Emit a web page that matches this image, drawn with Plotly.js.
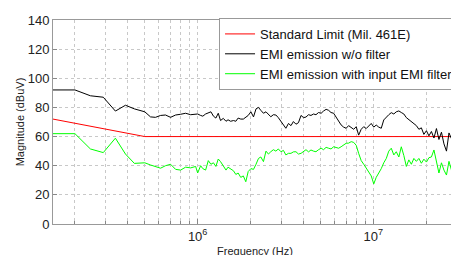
<!DOCTYPE html>
<html>
<head>
<meta charset="utf-8">
<script src="https://cdn.plot.ly/plotly-3.0.1.min.js"></script>
<style>
html, body { margin: 0; padding: 0; overflow: hidden; background: #fff; }
#chart { width: 460px; height: 262px; }
</style>
</head>
<body>
<div id="chart"></div>
<script>
// Frequencies (Hz) of the measured points
const freqHz = [
  150e3, 200e3, 245e3, 290e3, 340e3, 388e3, 436e3, 500e3, 539e3, 575e3,
  615e3, 656e3, 701e3, 749e3, 800e3, 854e3, 912e3, 974e3,
  1.00e6, 1.04e6, 1.07e6, 1.11e6, 1.15e6, 1.19e6, 1.23e6, 1.27e6, 1.31e6, 1.35e6,
  1.40e6, 1.45e6, 1.49e6, 1.54e6, 1.60e6, 1.65e6, 1.70e6, 1.76e6, 1.82e6, 1.88e6,
  1.94e6, 2.01e6, 2.08e6, 2.15e6, 2.22e6, 2.29e6, 2.37e6, 2.45e6, 2.53e6, 2.61e6,
  2.70e6, 2.79e6, 2.88e6, 2.98e6, 3.08e6, 3.18e6, 3.29e6, 3.40e6, 3.51e6, 3.63e6,
  3.75e6, 3.88e6, 4.01e6, 4.14e6, 4.28e6, 4.42e6, 4.57e6, 4.72e6, 4.88e6, 5.05e6,
  5.21e6, 5.39e6, 5.57e6, 5.75e6, 5.95e6, 6.15e6, 6.35e6, 6.56e6, 6.78e6, 7.01e6,
  7.24e6, 7.49e6, 7.74e6, 8.00e6, 8.26e6, 8.54e6, 8.83e6, 9.12e6, 9.43e6, 9.74e6,
  10.07e6, 10.4e6, 10.75e6, 11.11e6, 11.48e6, 11.87e6, 12.26e6, 12.67e6, 13.1e6, 13.53e6,
  13.99e6, 14.45e6, 14.94e6, 15.44e6, 15.95e6, 16.49e6, 17.04e6, 17.61e6, 18.2e6, 18.8e6,
  19.43e6, 20.09e6, 20.76e6, 21.45e6, 22.17e6, 22.91e6, 23.67e6, 24.47e6, 25.28e6, 26.13e6,
  27.0e6, 27.91e6, 28.84e6, 29.81e6
];

// EMI emission without filter (dBuV)
const emiNoFilter = [
  92, 92, 88, 87, 77.5, 81.5, 79, 77, 73.5, 73.2,
  74.5, 74.8, 73.2, 74.8, 75.3, 76, 75, 75.5,
  75.5, 74.5, 74, 75.5, 76, 77, 74, 72.7, 76, 71,
  72.5, 70.5, 71.5, 70.5, 71, 70.5, 72.7, 72, 72, 73.5,
  74.5, 77, 73.5, 79, 80, 78, 76, 77, 75.5, 73.6,
  75, 74.8, 73, 70.5, 67.5, 65.7, 69, 67.5, 70.3, 68.5,
  69.5, 74.5, 73, 73.4, 75, 74.5, 75.5, 75, 76.5, 76,
  77.5, 78.7, 78, 76.5, 76, 73, 70, 68, 66.5, 65.7,
  67.5, 66, 65, 66.8, 61, 65, 66.8, 65.5, 67.3, 69,
  66.5, 67.9, 66.5, 65.7, 71.4, 73.5, 75, 76.4, 75.5, 77,
  77.6, 76.5, 75.5, 73, 71.5, 70, 68.5, 67.5, 65, 66,
  61.5, 64, 60.5, 63.5, 59, 65.5, 58, 63, 55, 50,
  62.5, 58.5, 62, 59.5
];

// EMI emission with input EMI filter (dBuV)
const emiWithFilter = [
  62, 62, 51.5, 49, 58.9, 48, 41.6, 42, 40.5, 39.5,
  38.3, 40, 41, 37.5, 37, 39, 38.5, 39.5,
  35, 40, 38, 37, 43.5, 41, 42, 39.5, 44.6, 42.8,
  40, 37, 39, 38, 36.5, 34, 35, 32, 33, 29,
  36, 38, 37.5, 41, 45, 46, 42.8, 50, 48, 49.6,
  51, 50, 51.5, 49.6, 50.5, 47.4, 48.5, 48.5, 49.5, 49.6,
  48, 48.5, 50, 51, 49.5, 50.8, 50, 49.6, 51, 52,
  51, 52.6, 52, 51.5, 53, 52.6, 52, 53, 54, 55.4,
  55.5, 56.5, 56, 54, 48.5, 43.5, 41, 38.2, 36, 33,
  27.5, 32, 35, 38, 42, 45, 50, 52, 47.4, 49.6,
  46, 53, 47, 39.5, 44, 41, 45, 43, 45, 41.7,
  44.5, 42.5, 45.5, 46, 50.8, 42.8, 35, 42, 37, 33.6,
  43, 37, 40, 38
];

// Standard limit (Mil. 461E)
const limitFreqHz = [150e3, 500e3, 30e6];
const limitDbuv = [72, 60, 60];

const seriesNames = ['Standard Limit (Mil. 461E)', 'EMI emission w/o filter', 'EMI emission with input EMI filter'];

// Axis ticks
const xMajorTickVals = [1e6, 1e7];
const xMajorTickText = ['10<sup>6</sup>', '10<sup>7</sup>'];
const xMinorTickVals = [2e5, 3e5, 4e5, 5e5, 6e5, 7e5, 8e5, 9e5, 2e6, 3e6, 4e6, 5e6, 6e6, 7e6, 8e6, 9e6, 2e7, 3e7];
const yTickVals = [0, 20, 40, 60, 80, 100, 120, 140];

const FONT = 'Liberation Sans, Arial, sans-serif';

const traces = [
  { x: limitFreqHz, y: limitDbuv, name: seriesNames[0], mode: 'lines', line: { color: '#ff0000', width: 1 } },
  { x: freqHz, y: emiNoFilter, name: seriesNames[1], mode: 'lines', line: { color: '#000000', width: 1 } },
  { x: freqHz, y: emiWithFilter, name: seriesNames[2], mode: 'lines', line: { color: '#00ff00', width: 1 } }
];

const GRID = '#c8c8c8';

const layout = {
  width: 460, height: 262,
  margin: { l: 53, r: 3, t: 20, b: 38, autoexpand: false },
  paper_bgcolor: '#ffffff', plot_bgcolor: '#ffffff',
  font: { family: FONT, size: 12, color: '#222' },
  showlegend: true,
  legend: {
    x: 0.411, y: 1.01, xanchor: 'left', yanchor: 'top',
    bgcolor: '#ffffff', bordercolor: '#999999', borderwidth: 1,
    font: { family: FONT, size: 13, color: '#111' },
    itemwidth: 30
  },
  xaxis: {
    type: 'log',
    range: [Math.log10(150e3), Math.log10(30e6)],
    tickmode: 'array', tickvals: xMajorTickVals, ticktext: xMajorTickText,
    ticks: 'inside', ticklen: 5, tickcolor: '#888',
    showgrid: true, gridcolor: GRID, griddash: 'dot', gridwidth: 1,
    minor: { tickmode: 'array', tickvals: xMinorTickVals, ticks: 'inside', ticklen: 3, tickcolor: '#888',
             showgrid: true, gridcolor: GRID, griddash: 'dot', gridwidth: 1 },
    showline: true, linecolor: '#999', linewidth: 1, mirror: true,
    zeroline: false,
    tickfont: { family: FONT, size: 13, color: '#222' },
    title: { text: 'Frequency (Hz)', font: { family: FONT, size: 11, color: '#222' }, standoff: 4 }
  },
  yaxis: {
    range: [0, 140],
    tickmode: 'array', tickvals: yTickVals,
    ticks: 'inside', ticklen: 4, tickcolor: '#888',
    showgrid: true, gridcolor: GRID, griddash: 'dot', gridwidth: 1,
    showline: true, linecolor: '#999', linewidth: 1, mirror: true,
    zeroline: false,
    tickfont: { family: FONT, size: 13, color: '#222' },
    title: { text: 'Magnitude (dBuV)', font: { family: FONT, size: 11, color: '#222' }, standoff: 0 }
  }
};

Plotly.newPlot('chart', traces, layout, { displayModeBar: false, staticPlot: true });
</script>
</body>
</html>
